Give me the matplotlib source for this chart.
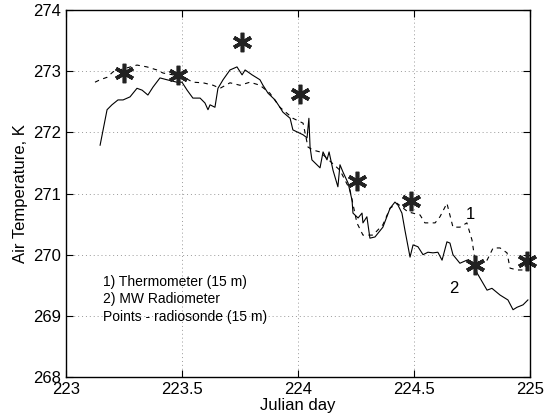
import numpy as np
import matplotlib
matplotlib.use("Agg")
import matplotlib.pyplot as plt

plt.rcParams['font.family'] = ['Liberation Sans', 'DejaVu Sans']

# MW radiometer (solid, curve 2)
radiometer_day = [223.147, 223.177, 223.198, 223.224, 223.246, 223.276, 223.306, 223.328,
                  223.353, 223.375, 223.405, 223.435, 223.478, 223.500, 223.522, 223.547,
                  223.578, 223.599, 223.612, 223.621, 223.642, 223.655, 223.677, 223.707,
                  223.737, 223.759, 223.772, 223.802, 223.836, 223.849, 223.871, 223.901,
                  223.922, 223.935, 223.966, 223.978, 224.022, 224.039, 224.047, 224.052,
                  224.060, 224.095, 224.108, 224.125, 224.134, 224.151, 224.172, 224.181,
                  224.194, 224.216, 224.233, 224.237, 224.259, 224.276, 224.280, 224.297,
                  224.310, 224.332, 224.366, 224.397, 224.418, 224.431, 224.448, 224.461,
                  224.483, 224.496, 224.517, 224.539, 224.560, 224.582, 224.603, 224.621,
                  224.642, 224.655, 224.668, 224.698, 224.728, 224.750, 224.772, 224.815,
                  224.836, 224.871, 224.905, 224.927, 224.944, 224.970, 224.991]
radiometer_temp = [271.79, 272.37, 272.45, 272.53, 272.53, 272.58, 272.72, 272.69,
                   272.61, 272.74, 272.89, 272.86, 272.82, 272.82, 272.69, 272.56,
                   272.56, 272.48, 272.37, 272.45, 272.41, 272.72, 272.86, 273.02,
                   273.07, 272.94, 273.02, 272.94, 272.86, 272.77, 272.64, 272.53,
                   272.41, 272.33, 272.23, 272.04, 271.96, 271.91, 272.23, 271.76,
                   271.55, 271.42, 271.68, 271.55, 271.68, 271.38, 271.11, 271.47,
                   271.35, 271.17, 270.89, 270.68, 270.60, 270.68, 270.52, 270.62,
                   270.27, 270.29, 270.45, 270.76, 270.86, 270.81, 270.68, 270.40,
                   269.96, 270.16, 270.13, 270.00, 270.04, 270.03, 270.04, 269.91,
                   270.21, 270.19, 270.00, 269.86, 269.91, 269.88, 269.70, 269.42,
                   269.45, 269.34, 269.26, 269.10, 269.14, 269.18, 269.26]

# Thermometer 15 m (dashed, curve 1)
thermo_day = [223.125, 223.147, 223.177, 223.203, 223.306, 223.349, 223.392, 223.418,
              223.461, 223.513, 223.547, 223.591, 223.634, 223.664, 223.707, 223.750,
              223.793, 223.836, 223.879, 223.922, 223.978, 224.022, 224.043, 224.065,
              224.095, 224.181, 224.224, 224.254, 224.280, 224.323, 224.366, 224.397,
              224.427, 224.474, 224.526, 224.547, 224.591, 224.612, 224.642, 224.668,
              224.698, 224.728, 224.750, 224.763, 224.784, 224.815, 224.841, 224.871,
              224.901, 224.914, 224.944, 224.970, 224.991]
thermo_temp = [272.82, 272.86, 272.90, 272.99, 273.10, 273.07, 273.02, 272.97,
               272.94, 272.89, 272.82, 272.81, 272.77, 272.72, 272.81, 272.77,
               272.82, 272.77, 272.64, 272.41, 272.23, 272.15, 271.76, 271.71,
               271.68, 271.38, 271.06, 270.52, 270.32, 270.32, 270.49, 270.76,
               270.84, 270.70, 270.65, 270.52, 270.52, 270.62, 270.84, 270.45,
               270.45, 270.52, 270.24, 269.91, 269.88, 269.91, 270.11, 270.11,
               270.03, 269.78, 269.75, 269.75, 269.88]

# Radiosonde points
sonde_day = [223.250, 223.483, 223.759, 224.009, 224.254, 224.487, 224.763, 224.987]
sonde_temp = [272.97, 272.94, 273.48, 272.63, 271.20, 270.88, 269.83, 269.90]

fig = plt.figure(figsize=(5.5, 4.19), dpi=100)
ax = fig.add_axes([0.12, 0.1002, 0.8436, 0.8759])

ax.plot(radiometer_day, radiometer_temp, color='black', linewidth=0.8, linestyle='-')
ax.plot(thermo_day, thermo_temp, color='black', linewidth=0.8, linestyle=(0, (4, 4)))
ax.plot(sonde_day, sonde_temp, linestyle='none', marker=(6, 2, 0), markersize=14,
        markeredgewidth=2.6, color='#222222', clip_on=False)

ax.text(224.741, 270.65, '1', fontsize=12, ha='center', va='center')
ax.text(224.672, 269.45, '2', fontsize=12, ha='center', va='center')

ax.text(223.16, 269.55, '1) Thermometer (15 m)', fontsize=10, va='center')
ax.text(223.16, 269.27, '2) MW Radiometer', fontsize=10, va='center')
ax.text(223.16, 268.98, 'Points - radiosonde (15 m)', fontsize=10, va='center')

ax.set_xlim(223, 225)
ax.set_ylim(268, 274)
ax.set_xticks([223, 223.5, 224, 224.5, 225])
ax.set_xticklabels(['223', '223.5', '224', '224.5', '225'])
ax.set_yticks(np.arange(268, 275, 1))
ax.tick_params(direction='in', length=5, width=0.8, labelsize=12, top=True, right=True)
ax.grid(True, linestyle=(0, (1, 3)), color='#999999', linewidth=0.7)
for s in ax.spines.values():
    s.set_linewidth(1.0)

ax.set_xlabel('Julian day', fontsize=12, labelpad=1)
ax.set_ylabel('Air Temperature, K', fontsize=12, labelpad=4)

fig.savefig('out.png', dpi=100)
